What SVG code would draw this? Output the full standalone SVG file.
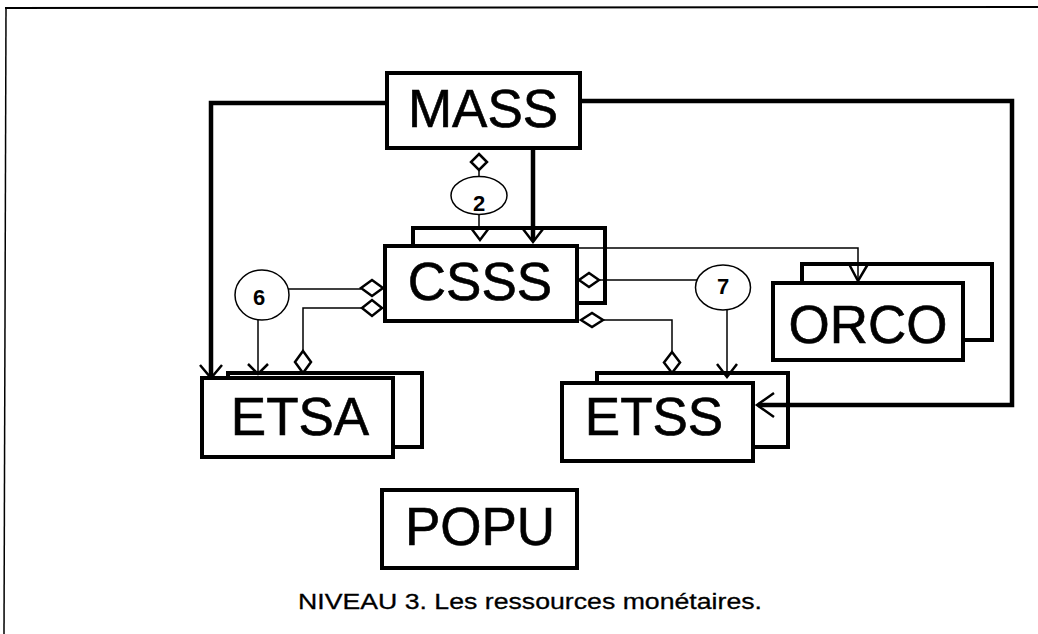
<svg xmlns="http://www.w3.org/2000/svg" width="1038" height="634" viewBox="0 0 1038 634">
<style>
.box{fill:#fff;stroke:#000;stroke-width:4}
.lbl{font-family:"Liberation Sans",Arial,sans-serif;font-size:53px;text-anchor:middle;fill:#000;stroke:#000;stroke-width:0.6}
.num{font-family:"Liberation Sans",Arial,sans-serif;font-size:22px;font-weight:bold;text-anchor:middle;fill:#000}
.circ{fill:#fff;stroke:#000;stroke-width:1.5}
.thick{fill:none;stroke:#000;stroke-width:4.5;stroke-linejoin:miter}
.thin{fill:none;stroke:#000;stroke-width:1.5}
.arr{fill:none;stroke:#000;stroke-width:2.5}
.dia{fill:#fff;stroke:#000;stroke-width:2.5}
.cap{font-family:"Liberation Sans",Arial,sans-serif;font-size:22px;fill:#000;stroke:#000;stroke-width:0.3}
</style>
<rect width="1038" height="634" fill="#fff"/>
<g id="frame">
<path d="M5 8 L1038 7" stroke="#000" stroke-width="2" fill="none"/>
<path d="M6 8 L4 634" stroke="#000" stroke-width="1.5" fill="none"/>
</g>
<g id="MASS">
<rect class="box" x="387" y="73" width="193" height="75"/>
<text class="lbl" x="483" y="127">MASS</text>
</g>
<g id="CSSS">
<rect class="box" x="413" y="228" width="192" height="75"/>
<rect class="box" x="385" y="246" width="192" height="75"/>
<text class="lbl" x="480" y="300">CSSS</text>
</g>
<g id="ETSA">
<rect class="box" x="228" y="373" width="194" height="74"/>
<rect class="box" x="202" y="378" width="191" height="79"/>
<text class="lbl" x="300" y="435">ETSA</text>
</g>
<g id="ETSS">
<rect class="box" x="597" y="373" width="191" height="74"/>
<rect class="box" x="562" y="383" width="191" height="78"/>
<text class="lbl" x="654" y="435">ETSS</text>
</g>
<g id="ORCO">
<rect class="box" x="802" y="264" width="190" height="76"/>
<rect class="box" x="773" y="283" width="190" height="77"/>
<text class="lbl" x="868" y="343">ORCO</text>
</g>
<g id="POPU">
<rect class="box" x="382" y="490" width="195" height="78"/>
<text class="lbl" x="480" y="545">POPU</text>
</g>
<g id="connectors">
<path class="thick" d="M387 103 H211 V376"/>
<polyline class="arr" points="200,365 211,378 222,365"/>
<path class="thick" d="M580 101 H1012 V405 H758"/>
<polyline class="arr" points="774,393 757,405 774,417"/>
<path class="thick" d="M533 148 V240"/>
<polyline class="arr" points="523,229 533,242 543,229"/>
<path class="thin" d="M479 170 V228"/>
<polyline class="arr" points="471,228 480,240 489,228"/>
<path class="thin" d="M577 248 H858 V280"/>
<polyline class="arr" points="849,264 858,281 868,264"/>
<path class="thin" d="M288 289 H361"/>
<path class="thin" d="M362 308 H303 V351"/>
<path class="thin" d="M258 320 V373"/>
<polyline class="arr" points="248,364 258,374 268,364"/>
<path class="thin" d="M599 280 H697"/>
<path class="thin" d="M603 320 H672 V352"/>
<path class="thin" d="M727 310 V377"/>
<polyline class="arr" points="717,364 727,377 737,364"/>
<polygon class="dia" points="479,154 487,162 479,170 471,162"/>
<polygon class="dia" points="361,288 372,280 383,288 372,296"/>
<polygon class="dia" points="362,308 372,300 382,308 372,316"/>
<polygon class="dia" points="303,351 311,362 303,373 295,362"/>
<polygon class="dia" points="579,280 589,273 599,280 589,287"/>
<polygon class="dia" points="581,320 592,313 603,320 592,327"/>
<polygon class="dia" points="672,352 680,362.5 672,373 664,362.5"/>
</g>
<g id="circle2">
<ellipse class="circ" cx="479" cy="195.5" rx="28" ry="19"/>
<text class="num" x="479" y="211">2</text>
</g>
<g id="circle6">
<ellipse class="circ" cx="262" cy="295" rx="27" ry="25"/>
<text class="num" x="259" y="305">6</text>
</g>
<g id="circle7">
<ellipse class="circ" cx="723" cy="287.5" rx="27.5" ry="22.5"/>
<text class="num" x="723" y="294">7</text>
</g>
<text class="cap" x="298" y="609" textLength="464" lengthAdjust="spacingAndGlyphs">NIVEAU 3. Les ressources monétaires.</text>
</svg>
